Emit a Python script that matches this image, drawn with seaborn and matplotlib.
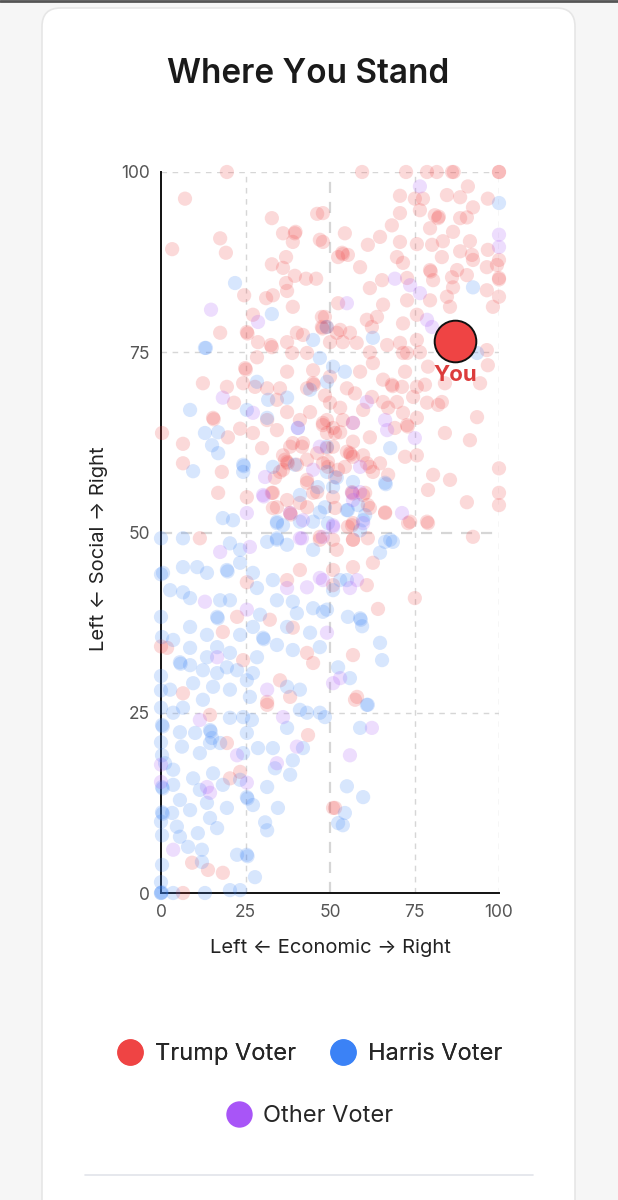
import pandas as pd
import matplotlib.pyplot as plt
import seaborn as sns
from matplotlib.patches import FancyBboxPatch
from matplotlib.lines import Line2D

# (economic, social) positions
TRUMP = [
    (19.5, 100), (7.1, 96.3), (3.3, 89.3), (17.5, 90.8), (19.2, 88.8), (32.8, 93.6), (46.2, 94.2),
    (36.1, 91.5), (39.6, 91.5), (39.8, 91.7), (39, 90.3), (47.9, 90.3), (37, 88.2), (32.8, 87.2),
    (36.1, 86.7), (39.6, 85.6), (42.9, 85.2), (45.9, 85.2), (37, 84.6), (37.3, 83.5), (33.1, 82.9),
    (31.1, 82.5), (24.6, 82.9), (39, 81.3), (52.4, 88.2), (52.4, 81.8), (17.5, 77.7), (25.4, 77.8),
    (25.6, 77.6), (27.2, 80.2), (28.7, 76.4), (32.5, 76), (37.3, 76.4), (40.2, 77.7), (42, 77.4),
    (47.6, 79.9), (47.6, 78.5), (47.8, 78.3), (52, 77.7),
    (59.5, 100), (72.5, 100), (78.7, 100), (81.6, 100), (86.1, 100), (86.6, 100), (100, 100), (100, 100),
    (70.7, 96.7), (75.1, 96.3), (77.5, 96.3), (84.6, 96.8), (88.5, 96.5), (90.8, 98), (96.7, 96.3),
    (47.9, 94.3), (70.7, 94.3), (76.6, 94.7), (81, 94), (82, 93.6), (82.2, 93.8), (88.5, 93.6),
    (90.5, 93.7), (92.3, 95.1), (68.3, 92.6), (79.6, 92.2), (86.4, 91.7), (54.4, 91.5), (64.8, 91),
    (70.7, 90.3), (61.2, 89.9), (75.7, 90), (80.2, 89.9), (83.4, 90.4), (91.4, 90.4), (47, 90.6),
    (53.6, 88.8), (53.8, 88.6), (55.3, 88.5), (69.8, 88.2), (71.6, 87.4), (83.1, 88.2), (88.5, 89),
    (92, 88.5), (92.3, 87.8), (96.7, 89.2), (100, 87.8), (58.9, 86.8), (79.6, 86.4), (79.8, 86.2),
    (87.6, 86.4), (90.5, 85.7), (96.4, 86.8), (99.4, 87.1), (65.4, 85), (72.8, 85.3), (80.5, 85),
    (86.1, 85.4), (86.4, 84), (100, 85.3), (100, 85.1), (61.8, 83.9), (84.6, 82.7), (96.4, 83.6),
    (100, 82.7), (65.7, 81.6), (72.8, 82.2), (79.6, 82.2), (85.5, 81.3), (98.2, 81.3), (48.5, 79.9),
    (60.9, 79.5), (63.9, 79.9), (71.6, 79), (75.7, 80.2), (49.1, 78.5), (53, 78.1), (55.9, 77.7),
    (62.4, 78.5), (50, 76.4), (53.8, 76.4), (57.9, 76.3), (66.9, 76), (70.7, 76.3), (75.7, 76.7),
    (61.8, 75), (71.6, 74.9), (76.6, 75),
    (72.8, 74.9), (96.4, 75.3), (62.7, 73.5), (96.7, 73.2), (58.9, 72.3), (72.2, 72.3), (79, 73),
    (50, 71.6), (65.7, 71.2), (68.3, 70.5), (68.5, 70.3), (71.3, 70.2), (75.7, 70.2), (78.1, 70.5),
    (84, 70.7), (94.4, 70.7), (55, 70), (57.4, 69.3), (62.4, 68.8), (65.7, 68.1), (69.8, 68.1),
    (74.6, 68.8), (78.7, 68), (82, 67.7), (83.1, 68.1), (50, 68), (53, 67.3), (59.8, 67), (67.2, 67.3),
    (71.6, 66.6), (93.5, 66), (49.1, 65.6), (53.8, 65.6), (56.8, 65.2), (69.2, 64.5), (72.8, 64.9),
    (73, 64.7), (75.7, 65.9), (84, 63.8), (91.4, 62.8), (49.1, 63.8), (53, 63.9), (61.8, 63.2),
    (56.8, 62.6), (50.9, 61.9), (55.9, 61), (56.1, 60.8), (59.8, 60.7), (72.2, 60.5), (75.7, 60.7),
    (100, 58.9), (47.9, 59.6), (54.4, 59.1), (60.9, 59.6), (62.7, 58.4), (80.5, 58), (85.5, 57.3),
    (79, 55.9), (51.5, 57.7), (56.5, 55.6), (56.7, 55.4), (59.8, 55.2), (61.2, 53.8), (66.3, 52.7),
    (100, 55.5), (100, 53.8), (90.5, 54.2), (78.7, 51.5), (73.7, 51.5), (56.8, 51.3),
    (24.9, 72.8), (25.1, 72.6), (12.4, 70.7), (19.5, 70.2), (24.3, 70.7), (21.6, 68), (15.4, 65.9),
    (15.6, 65.7), (0.3, 63.8), (6.5, 62.3), (6.5, 59.6), (18, 58.4), (16.9, 55.5), (23.4, 64.4),
    (27.2, 63.8), (29.9, 61.7), (19.8, 63.2), (27.8, 70.2), (31.4, 70), (35.2, 70), (37.3, 72.3),
    (32.8, 75.7), (28.4, 74.3), (38.8, 74.9), (43.2, 74.9), (45, 72.5), (45, 70.7), (45.2, 70.5),
    (43.2, 70), (48.5, 69), (34.3, 68.4), (37.3, 66.7), (31.4, 65.6), (44.1, 66.7), (41.1, 65.6),
    (47.9, 65.2), (50.9, 64.5), (36.1, 60.7), (39, 62.4), (37.3, 59.8), (37.5, 59.6), (35.2, 58.4),
    (40.2, 59.4), (46.2, 61), (49.1, 61.7), (42, 62.4), (43.2, 57.3), (49.4, 59.1), (45, 55.5),
    (38.2, 52.7), (38.4, 52.5), (34.3, 53.5), (25.4, 54.9), (32.8, 55.5), (41.1, 54.1),
    (34.3, 64.2), (47.9, 64.9), (51.5, 63.8), (38.2, 61.9), (41.7, 61.9), (36.7, 60.1), (36.1, 58.7),
    (43.2, 60.1), (49.4, 59.8), (52.4, 58.7), (55, 61.2), (56.8, 60.5), (61.8, 59.1), (64.8, 59.6),
    (33.7, 57.6), (43.2, 56.9), (67.2, 58), (33.1, 55.5), (37.3, 54.5), (46.2, 55.6), (50.9, 54.9),
    (60.4, 55.5), (33.1, 53.4), (43.2, 53.5), (51.5, 53.4), (61.8, 53.4), (66.3, 52.8), (55.3, 50.8),
    (47, 49.4), (50.9, 49), (56.8, 49),
    (11.5, 49.2), (47, 49), (25.4, 43.1), (37.3, 43.4), (41.1, 44.8), (50.9, 42.7), (22.5, 38.3),
    (32.2, 37.9), (18.3, 36.2), (39, 36.8), (1.8, 34), (24.3, 32.3), (43.2, 33.3), (45, 31.9),
    (35.2, 29.5), (38.2, 27.2), (6.5, 27.7), (31.4, 26.5),
    (14.5, 24.7), (19.5, 20.8), (31.4, 26.1), (43.5, 21.9), (20.4, 15.9), (23.4, 16.8), (9.2, 4.2),
    (13.9, 3.2), (18.3, 2.8), (6.5, 0), (50.9, 11.8),
    (56.5, 51), (73.1, 51.3), (79, 51.3), (92.3, 49.4), (52, 47.6), (56.8, 49), (61.2, 49.2),
    (62.7, 45.8), (56.8, 45.2), (50.9, 44.8), (60.9, 42.7), (75.1, 40.9), (64.2, 39.4), (56.8, 33),
    (58, 27.2), (57.4, 26.8), (51.5, 11.8), (0, 34.2),
]

HARRIS = [
    (21.9, 84.6), (32.8, 80.3), (13, 75.6), (45, 76.7), (49, 78.5),
    (100, 95.7), (92.3, 84), (62.7, 77), (93.5, 74.9),
    (13.3, 75.6), (8.6, 67), (13, 63.8), (16.9, 63.9), (15.1, 62.1), (16.9, 61), (9.5, 58.5),
    (24.3, 59.4), (24.5, 59.2), (24.3, 58.4), (28.4, 70.9), (31.7, 68.4), (37.3, 68.7), (31.4, 65.9),
    (33.1, 59.1), (44.1, 69.8), (47, 74.2), (49.1, 70.9), (47, 52.8), (49.4, 51.3), (34.3, 51.5),
    (36.1, 51), (41.1, 51.5), (18.3, 52), (21.3, 51.7), (25.4, 67),
    (50.9, 73), (54.4, 72.3), (67.8, 61.7), (66.3, 56.9), (66.5, 56.7), (49.1, 58.4), (50.9, 56.3),
    (60.4, 52.4), (48.5, 53.5), (55, 53.1),
    (40.5, 64.5), (39.6, 59.4), (49.1, 61.9), (46.4, 56.3), (52, 57.6), (56.8, 57), (41.1, 55.2),
    (55.3, 53.1), (58.3, 53.8), (34.3, 51.3), (45, 51.5), (59.8, 51.7), (58.9, 50.3), (34.3, 49.2),
    (67.8, 49),
    (0, 49.2), (6.5, 49.2), (20.4, 48.5), (23.4, 47.6), (31.4, 48.7), (34.3, 49), (37.3, 48.3),
    (45, 47.6), (0.6, 44.4), (6.5, 45.2), (10.7, 45.2), (13.6, 44.4), (19.5, 44.8), (19.7, 44.6),
    (23.4, 45.8), (28.4, 42.3), (27.2, 44.4), (33.1, 43.4), (2.7, 42), (6.5, 41.7), (8.6, 40.9),
    (17.5, 40.6), (16.6, 38.3), (16.8, 38.1), (20.4, 40.6), (29.3, 38.6), (34.3, 40.6), (39, 40.4),
    (40.2, 38.8), (45, 39.5), (47.9, 39), (0, 38.3), (8.6, 36.9), (13.6, 35.8), (16.6, 34.1),
    (23.4, 35.8), (27.2, 36.9), (30.2, 35.4), (30.4, 35.2), (37.3, 36.9), (44.1, 36.1), (0.3, 35.5),
    (3.6, 35.1), (8.6, 34), (5.6, 32), (5.8, 31.8), (8.6, 31.6), (13.6, 32.7), (20.4, 33.3),
    (28.4, 32.7), (34.3, 34.4), (39, 33.7), (47, 34.1), (12.4, 30.9), (16.6, 30.5), (19.5, 31.3),
    (22.5, 30.9), (25.4, 29.5), (27.2, 30.5), (37.3, 28.6), (41.1, 28.2), (2.7, 28.2), (12.4, 26.8),
    (15.4, 28.6), (20.4, 28.2), (26.3, 27.2), (9.5, 29.1),
    (0.3, 23.3), (0.5, 23.1), (3.6, 25), (6.5, 25.7), (14.5, 22.6), (14.7, 22.4), (15.1, 21.5),
    (14.5, 20.8), (5.6, 22.3), (10.1, 22.2), (6.2, 20.3), (0.3, 19.1), (11.5, 19.4), (17.5, 20.8),
    (24.3, 19.4), (20.4, 24.3), (24.3, 24.4), (26.9, 24), (25.4, 22.2), (37.3, 22.9), (41.1, 25.4),
    (43.2, 25), (47, 25), (42, 20.1), (39, 18.4), (33.7, 17.3), (38.2, 16.4), (28.7, 20.1),
    (33.1, 20.1), (1.2, 18), (3.6, 17.1), (0.3, 14.7), (0.5, 14.5), (3.6, 15), (9.5, 15.9),
    (11.5, 14.3), (15.4, 16.6), (18.3, 15), (23.4, 15.7), (25.4, 13.3), (25.6, 13.1), (27.2, 12.2),
    (31.4, 14.7), (34.6, 11.8), (30.8, 9.8), (31.4, 8.7), (19.5, 11.8), (13.6, 12.5), (8.6, 11.5),
    (5.6, 12.9), (0.3, 11.2), (0.5, 11), (3.3, 11.1), (4.7, 9.2), (14.5, 10.4), (16.6, 9),
    (10.9, 8.3), (0.3, 8), (5.6, 7.8), (8, 6.4), (12.1, 6), (12.1, 4.3), (0.3, 3.9), (22.5, 5.3),
    (25.4, 5.3), (25.6, 5.1), (27.8, 2.2), (0, 0), (0, 0), (0.2, 0.1), (3.6, 0), (13, 0),
    (20.4, 0.4), (23.4, 0.4), (52.4, 9.7),
    (66.3, 48.7), (68.6, 48.7), (64.8, 47.2), (53, 43.4), (55, 43.4), (50.9, 42), (49.1, 39.3),
    (55.3, 38.3), (58.9, 38.1), (59.1, 37.9), (59.5, 37), (64.8, 34.7), (65.4, 32.3), (52.4, 31.3),
    (55.9, 29.8), (60.9, 26.1), (61.2, 26.1), (58.9, 22.9), (55, 14.8), (59.8, 13.3), (54.4, 11.1),
    (53.8, 9.4), (48.5, 24.4),
    (0, 44.2), (0, 30.1), (0, 28.1), (0, 25.7), (0, 20.9), (0, 9.9), (0, 1.5),
]

OTHER = [
    (14.8, 80.9), (28.7, 79.2), (76.6, 98), (100, 91.3), (100, 89.6), (69.2, 85.2), (73.7, 84.3),
    (76.6, 83.2), (55, 81.8), (78.7, 79.5), (80.2, 78.5), (18.3, 68.7), (27.2, 66.6), (40.5, 64.5),
    (30.2, 55.2), (30.4, 55), (30.8, 57.7), (50.9, 51), (47, 61.9), (25.4, 52.7), (60.9, 68.1),
    (66.3, 65.6), (75.1, 63.1), (71.3, 52.7), (58.9, 55.6), (56.8, 54.5), (45, 58.7), (58.9, 59.1),
    (56.8, 65.2), (66.9, 64.2), (56.5, 55.5), (38.2, 52.7), (42, 51.7), (41.7, 49.2), (50.9, 50.8),
    (17.5, 47.3), (26.3, 48), (41.1, 49.2), (37.3, 42.3), (43.2, 42.4), (47, 43.7), (13, 40.4),
    (25.4, 39.3), (49.1, 36.1), (16.6, 32.7), (50.9, 29.1), (31.4, 28.2), (11.5, 24), (22.5, 19.1),
    (36.1, 24.4), (40.2, 20.3), (34.3, 18), (0, 15.4), (13.6, 14.7), (14.5, 13.9), (25.4, 15.3),
    (3.6, 6), (47.9, 49.4), (47.9, 43.4), (58, 43.4), (55.9, 42.3), (53, 29.8), (59.8, 51.3),
    (62.4, 22.9), (55.9, 19.1), (0, 17.8),
]

YOU = (87, 76.6)

GROUPS = ["Trump Voter", "Harris Voter", "Other Voter"]
COLORS = {"Trump Voter": "#ef4444", "Harris Voter": "#3b82f6", "Other Voter": "#a855f7"}
TICKS = [0, 25, 50, 75, 100]


def main():
    frames = []
    for name, pts in zip(GROUPS, [TRUMP, HARRIS, OTHER]):
        d = pd.DataFrame(pts, columns=["econ", "social"])
        d["voter"] = name
        frames.append(d)
    df = pd.concat(frames, ignore_index=True)

    sns.set_style("white")
    plt.rcParams["font.family"] = ["Inter", "DejaVu Sans"]

    fig = plt.figure(figsize=(6.18, 12), dpi=100)
    fig.patch.set_facecolor("#f6f6f6")

    # card background
    card = FancyBboxPatch((42 / 618, -0.05), 533 / 618, 1.05 - 8 / 1200,
                          boxstyle="round,pad=0,rounding_size=0.03",
                          transform=fig.transFigure, facecolor="white",
                          edgecolor="#e6e6e6", linewidth=1.2, zorder=-10,
                          mutation_aspect=618 / 1200)
    fig.patches.append(card)
    fig.lines.append(Line2D([0, 1], [0.999, 0.999], transform=fig.transFigure,
                            color="#555555", linewidth=2, zorder=-5))

    fig.text(308.5 / 618, 1 - 74 / 1200, "Where You Stand", ha="center", va="center",
             fontsize=24, fontweight="semibold", color="#1a1a1a")

    ax = fig.add_axes([161 / 618, 1 - 893 / 1200, 338 / 618, 721 / 1200])
    ax.set_facecolor("none")
    ax.set_zorder(1)

    sns.scatterplot(data=df, x="econ", y="social", hue="voter", palette=COLORS,
                    s=105, alpha=0.2, edgecolor="none", legend=False, ax=ax,
                    clip_on=False, zorder=3)

    ax.scatter([YOU[0]], [YOU[1]], s=900, color="#ef4444", edgecolor="#111111",
               linewidth=1.4, zorder=5, clip_on=False)
    ax.text(YOU[0], YOU[1] - 4.7, "You", ha="center", va="center", fontsize=16,
            fontweight="bold", color="#dc3c3c", zorder=6)

    ax.set_xlim(0, 100)
    ax.set_ylim(0, 100)
    ax.set_xticks(TICKS)
    ax.set_yticks(TICKS)

    for v in [25, 75, 100]:
        ax.axvline(v, color="#d6d6d6", linewidth=1, linestyle=(0, (4, 4)), zorder=1)
        ax.axhline(v, color="#d6d6d6", linewidth=1, linestyle=(0, (4, 4)), zorder=1)
    ax.axvline(50, color="#d6d6d6", linewidth=1.6, linestyle=(0, (5, 4)), zorder=1)
    ax.axhline(50, color="#d6d6d6", linewidth=1.6, linestyle=(0, (5, 4)), zorder=1)

    for side in ["top", "right"]:
        ax.spines[side].set_visible(False)
    for side in ["left", "bottom"]:
        ax.spines[side].set_color("#111111")
        ax.spines[side].set_linewidth(1.4)
        ax.spines[side].set_zorder(2)

    ax.tick_params(axis="both", length=5, width=1.2, color="#111111",
                   labelsize=12.5, labelcolor="#555555", pad=3)

    ax.set_xlabel("Left ← Economic → Right", fontsize=14.5, color="#222222")
    ax.set_ylabel("Left ← Social → Right", fontsize=14.5, color="#222222")
    ax.xaxis.set_label_coords(0.5, -0.064)
    ax.yaxis.set_label_coords(-0.158, 0.477)

    # legend, two rows centred
    def handle(name):
        return Line2D([], [], marker="o", linestyle="none", markersize=19,
                      markerfacecolor=COLORS[name], markeredgecolor="none")

    leg1 = fig.legend([handle(g) for g in GROUPS[:2]], GROUPS[:2], ncol=2,
                      loc="center", bbox_to_anchor=(0.5, 1 - 1054 / 1200), frameon=False,
                      fontsize=17, handletextpad=0.45, columnspacing=1.4,
                      handlelength=1.2)
    fig.legend([handle(GROUPS[2])], [GROUPS[2]], loc="center",
               bbox_to_anchor=(0.5, 1 - 1116 / 1200), frameon=False, fontsize=17,
               handletextpad=0.45, handlelength=1.2)
    fig.add_artist(leg1)

    fig.lines.append(Line2D([85 / 618, 533 / 618], [1 - 1175 / 1200] * 2,
                            transform=fig.transFigure, color="#e2e4ea", linewidth=1.2))

    fig.savefig("out.png", dpi=100, facecolor=fig.get_facecolor())
    plt.close(fig)


if __name__ == "__main__":
    main()
